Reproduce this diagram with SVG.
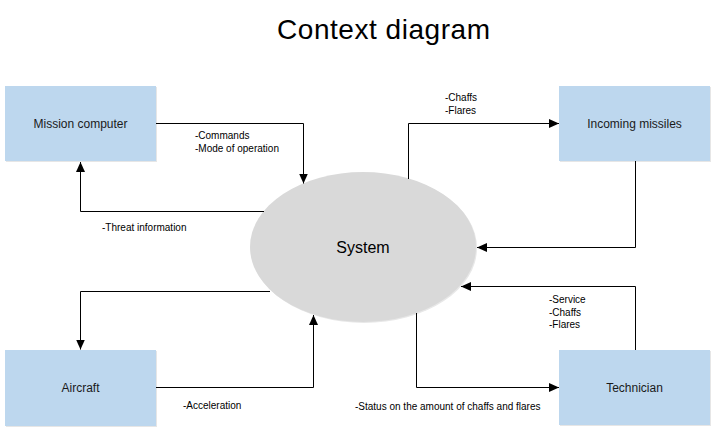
<svg xmlns="http://www.w3.org/2000/svg" width="716" height="433" viewBox="0 0 716 433">
<defs>
<marker id="arr" markerUnits="userSpaceOnUse" markerWidth="10" markerHeight="10" viewBox="0 0 10 10" refX="10" refY="5" orient="auto">
<path d="M0,0.5 L10,5 L0,9.5 Z" fill="#000"/>
</marker>
</defs>
<style>
.box{fill:#bdd7ee;}
.shadow{fill:#e6e6e6;}
.nl{font-family:"Liberation Sans",Arial,sans-serif;font-size:12px;fill:#1a1a1a;text-anchor:middle;}
.sl{font-family:"Liberation Sans",Arial,sans-serif;font-size:10px;fill:#000;}
.c{fill:none;stroke:#000;stroke-width:1;marker-end:url(#arr);}
</style>
<rect width="716" height="433" fill="#fff"/>
<text x="383.5" y="39" font-family="Liberation Sans,Arial,sans-serif" font-size="28" text-anchor="middle" fill="#000" textLength="213" lengthAdjust="spacing">Context diagram</text>

<g id="mission-computer">
<rect class="shadow" x="6" y="87" width="151" height="75"/>
<rect class="box" x="5" y="86" width="151" height="75"/>
<text class="nl" x="80.5" y="128">Mission computer</text>
</g>
<g id="incoming-missiles">
<rect class="shadow" x="560" y="87" width="151" height="75"/>
<rect class="box" x="559" y="86" width="151" height="75"/>
<text class="nl" x="634.5" y="128">Incoming missiles</text>
</g>
<g id="aircraft">
<rect class="shadow" x="6" y="351" width="151" height="76"/>
<rect class="box" x="5" y="350" width="151" height="76"/>
<text class="nl" x="80.5" y="392">Aircraft</text>
</g>
<g id="technician">
<rect class="shadow" x="560" y="351" width="151" height="75"/>
<rect class="box" x="559" y="350" width="151" height="75"/>
<text class="nl" x="634.5" y="392">Technician</text>
</g>
<g id="system">
<ellipse cx="364" cy="248" rx="113" ry="75" fill="#e8e8e8"/>
<ellipse cx="363" cy="247" rx="113" ry="75" fill="#d9d9d9"/>
<text x="363" y="253" font-family="Liberation Sans,Arial,sans-serif" font-size="16" text-anchor="middle" fill="#000">System</text>
</g>

<g id="connectors">
<polyline class="c" points="156,123.5 303.5,123.5 303.5,183.5"/>
<polyline class="c" points="264,211.5 80.5,211.5 80.5,162"/>
<polyline class="c" points="408.5,179 408.5,123.5 559,123.5"/>
<polyline class="c" points="635.5,161 635.5,247.5 477,247.5"/>
<polyline class="c" points="270,291.5 80.5,291.5 80.5,349.5"/>
<polyline class="c" points="156,387.5 313.5,387.5 313.5,315"/>
<polyline class="c" points="635.5,350 635.5,286.5 461,286.5"/>
<polyline class="c" points="416.5,313 416.5,387.5 559,387.5"/>
</g>

<g id="labels">
<text class="sl" x="195" y="139">-Commands</text>
<text class="sl" x="195" y="152">-Mode of operation</text>
<text class="sl" x="102" y="231">-Threat information</text>
<text class="sl" x="445" y="101">-Chaffs</text>
<text class="sl" x="445" y="114">-Flares</text>
<text class="sl" x="549" y="303">-Service</text>
<text class="sl" x="549" y="316">-Chaffs</text>
<text class="sl" x="549" y="328">-Flares</text>
<text class="sl" x="183" y="409">-Acceleration</text>
<text class="sl" x="355" y="410">-Status on the amount of chaffs and flares</text>
</g>
</svg>
